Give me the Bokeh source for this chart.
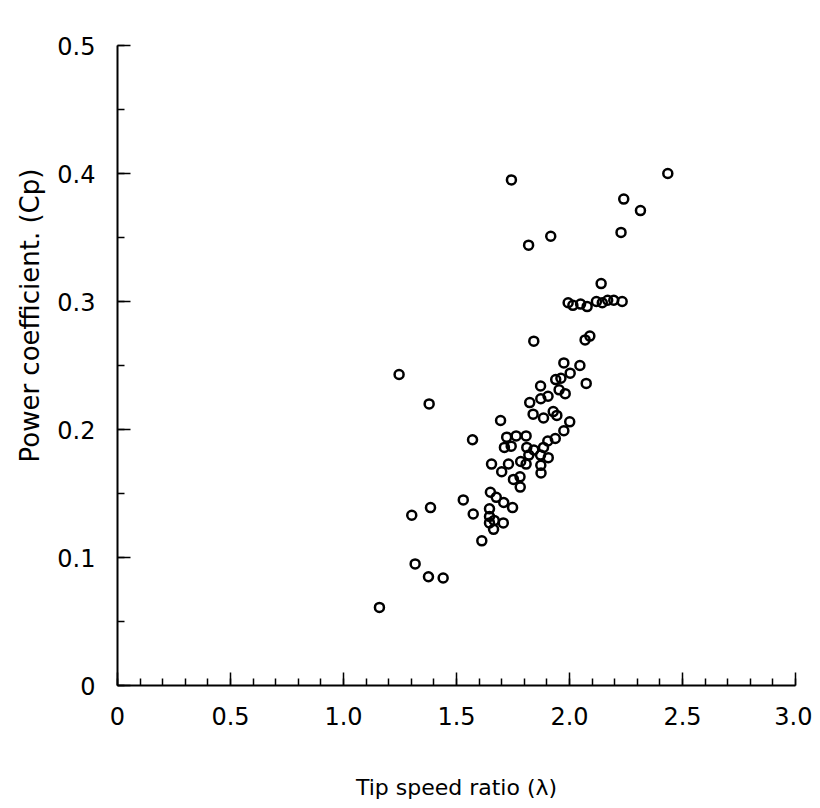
from bokeh.plotting import figure
from bokeh.models import FixedTicker, Range1d, Title
from bokeh.embed import file_html
from bokeh.resources import INLINE

tsr = [1.743, 2.435, 2.240, 2.314, 2.228, 1.917, 1.819, 2.140, 1.994, 2.015,
       2.049, 2.078, 2.119, 2.145, 2.169, 2.196, 2.233, 1.842, 2.069, 2.090,
       1.975, 2.046, 2.003, 1.939, 1.962, 1.872, 2.074, 1.954, 1.981, 1.824,
       1.873, 1.905, 1.839, 1.928, 1.944, 1.885, 2.001, 1.975, 1.808, 1.937,
       1.904, 1.811, 1.885, 1.842, 1.820, 1.872, 1.906, 1.784, 1.808, 1.873,
       1.874, 1.781, 1.246, 1.379, 1.695, 1.571, 1.722, 1.764, 1.712, 1.742,
       1.655, 1.730, 1.700, 1.752, 1.782, 1.650, 1.676, 1.530, 1.709, 1.748,
       1.385, 1.302, 1.574, 1.646, 1.646, 1.646, 1.667, 1.707, 1.664, 1.612,
       1.317, 1.376, 1.441, 1.159]
cp = [0.395, 0.400, 0.380, 0.371, 0.354, 0.351, 0.344, 0.314, 0.299, 0.297,
      0.298, 0.296, 0.300, 0.299, 0.301, 0.301, 0.300, 0.269, 0.270, 0.273,
      0.252, 0.250, 0.244, 0.239, 0.240, 0.234, 0.236, 0.231, 0.228, 0.221,
      0.224, 0.226, 0.212, 0.214, 0.211, 0.209, 0.206, 0.199, 0.195, 0.193,
      0.191, 0.186, 0.186, 0.184, 0.180, 0.180, 0.178, 0.175, 0.173, 0.172,
      0.166, 0.163, 0.243, 0.220, 0.207, 0.192, 0.194, 0.195, 0.186, 0.187,
      0.173, 0.173, 0.167, 0.161, 0.155, 0.151, 0.147, 0.145, 0.143, 0.139,
      0.139, 0.133, 0.134, 0.138, 0.132, 0.127, 0.129, 0.127, 0.122, 0.113,
      0.095, 0.085, 0.084, 0.061]

x_ticks = [0, 0.5, 1.0, 1.5, 2.0, 2.5, 3.0]
x_tick_labels = ["0", "0.5", "1.0", "1.5", "2.0", "2.5", "3.0"]
y_ticks = [0, 0.1, 0.2, 0.3, 0.4, 0.5]
y_tick_labels = ["0", "0.1", "0.2", "0.3", "0.4", "0.5"]

FONT = "DejaVu Sans"

p = figure(width=812, height=806, output_backend="svg", toolbar_location=None,
           x_range=Range1d(0, 3.0), y_range=Range1d(0, 0.5),
           min_border_left=117, min_border_right=17, min_border_top=45,
           min_border_bottom=121)
p.outline_line_color = None
p.grid.visible = False
p.background_fill_color = "white"

p.scatter(tsr, cp, marker="circle", size=9, fill_color=None,
          line_color="black", line_width=2.5)

xa = p.xaxis[0]
xa.ticker = FixedTicker(ticks=x_ticks,
                        minor_ticks=[i / 10 for i in range(31)])
xa.major_label_overrides = {t: l for t, l in zip(x_ticks, x_tick_labels)}
ya = p.yaxis[0]
ya.ticker = FixedTicker(ticks=y_ticks,
                        minor_ticks=[i / 20 for i in range(11)])
ya.major_label_overrides = {t: l for t, l in zip(y_ticks, y_tick_labels)}

for ax in (xa, ya):
    ax.axis_line_color = "black"
    ax.axis_line_width = 2
    ax.major_tick_in = 13
    ax.major_tick_out = 0
    ax.minor_tick_in = 7
    ax.minor_tick_out = 0
    ax.major_tick_line_width = 1.5
    ax.minor_tick_line_width = 1.5
    ax.major_tick_line_color = "black"
    ax.minor_tick_line_color = "black"
    ax.major_label_text_font = FONT
    ax.major_label_text_font_size = "24px"
    ax.major_label_text_color = "black"
    ax.axis_label_text_font = FONT
    ax.axis_label_text_font_style = "normal"
    ax.axis_label_text_color = "black"

xa.major_label_standoff = 21
ya.major_label_standoff = 22
xa.axis_label = "Tip speed ratio (λ)"
xa.axis_label_text_font_size = "22px"
xa.axis_label_standoff = 47

# y-axis title as a side panel title so it can sit above the frame centre
ytitle = Title(text="Power coefficient. (Cp)", align="left", offset=223,
               text_font=FONT, text_font_size="26px",
               text_font_style="normal", text_color="black", standoff=20)
p.add_layout(ytitle, "left")

open("out.html", "w").write(file_html(p, INLINE))
